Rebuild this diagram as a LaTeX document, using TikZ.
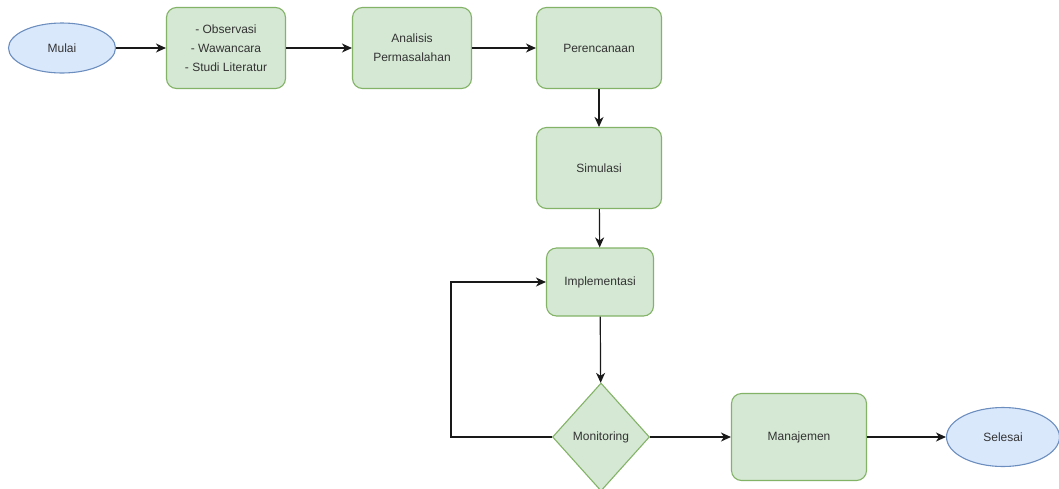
\documentclass[tikz,border=0pt]{standalone}
\usepackage{fontspec}
\setmainfont{Liberation Sans}
\usetikzlibrary{shapes.geometric,arrows.meta}
\definecolor{gfill}{HTML}{D5E8D4}
\definecolor{gline}{HTML}{82B366}
\definecolor{bfill}{HTML}{DAE8FC}
\definecolor{bline}{HTML}{6C8EBF}
\definecolor{txt}{HTML}{333333}
\tikzset{
  x=1pt,y=1pt,
  every node/.style={font=\fontsize{12}{19}\selectfont, text=txt, inner sep=0pt},
  gbox/.style={draw=gline, fill=gfill, line width=1.1pt, rounded corners=10pt, align=center},
  oval/.style={draw=bline, fill=bfill, line width=1.1pt, ellipse},
  dia/.style={draw=gline, fill=gfill, line width=1.1pt, diamond},
  conn/.style={draw=black!90, line width=1.2pt, -{Stealth[length=10pt,width=9pt,inset=3pt]}},
}
\begin{document}
\begin{tikzpicture}
\useasboundingbox (0,0) rectangle (1059,-488);
\node[oval, minimum width=107, minimum height=50] (mulai) at (62,-48) {Mulai};
\node[gbox, minimum width=119, minimum height=81] (obs) at (226,-48) {- Observasi\\- Wawancara\\- Studi Literatur};
\node[gbox, minimum width=119, minimum height=81] (ana) at (412,-48) {Analisis\\Permasalahan};
\node[gbox, minimum width=125, minimum height=81] (ren) at (599,-48) {Perencanaan};
\node[gbox, minimum width=125, minimum height=81] (sim) at (599,-168) {Simulasi};
\node[gbox, minimum width=107, minimum height=68] (imp) at (600,-282) {Implementasi};
\node[dia, minimum width=97, minimum height=108] (mon) at (601,-437) {Monitoring};
\node[gbox, minimum width=135, minimum height=87] (man) at (799,-437) {Manajemen};
\node[oval, minimum width=113, minimum height=59] (sel) at (1003,-437) {Selesai};
\coordinate (lb) at (451,-437);
\coordinate (lt) at (451,-282);
\draw[conn] (mulai) -- (obs);
\draw[conn] (obs) -- (ana);
\draw[conn] (ana) -- (ren);
\draw[conn] (ren) -- (sim);
\draw[conn] (sim) -- (imp);
\draw[conn] (imp) -- (mon);
\draw[conn] (mon.west) -- (lb) -- (lt) -- (imp.west);
\draw[conn] (mon.east) -- (man.west |- mon.east);
\draw[conn] (man) -- (sel);
\end{tikzpicture}
\end{document}
